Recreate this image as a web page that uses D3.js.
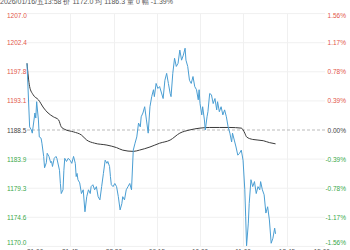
<!DOCTYPE html>
<html>
<head>
<meta charset="utf-8">
<script src="https://cdn.jsdelivr.net/npm/d3@7"></script>
<style>
  body { margin: 0; background: #fff; }
  svg { display: block; font-family: "Liberation Sans", Arial, sans-serif; }
</style>
</head>
<body>
<div id="chart"></div>
<script>
// svg container
var width = 350;
var height = 250;

// previous close and price range
var baseClose = 1188.5;
var priceMin = 1170.0;
var priceMax = 1207.0;
var totalMinutes = 345;

// y tick labels (left price, right percent)
var priceTicks = ["1207.0", "1202.4", "1197.8", "1193.1", "1188.5", "1183.9", "1179.3", "1174.6", "1170.0"];
var pctTicks = ["1.56%", "1.17%", "0.78%", "0.39%", "0.00%", "-0.39%", "-0.78%", "-1.17%", "-1.56%"];

// x tick labels
var timeLabels = ["21:00", "21:45", "22:30", "09:15", "10:00", "11:00", "13:45", "15:00"];
var timeTickMinutes = [0, 49, 99, 148, 197, 246, 296, 345];

// price line (minute offset, price)
var priceMinutes = [0, 3, 5, 6, 9, 10, 11, 13, 14, 16, 17, 19, 20, 22, 23, 25, 27, 28, 29, 31,
  33, 34, 37, 38, 39, 41, 42, 43, 45, 47, 49, 51, 53, 55, 56, 57, 58, 60, 62, 64,
  66, 68, 70, 72, 73, 75, 77, 79, 81, 83, 85, 87, 89, 91, 92, 94, 95, 96, 98, 100,
  102, 104, 106, 108, 109, 111, 113, 115, 117, 119, 121, 123, 125, 126, 127, 129, 130, 132, 134, 136,
  138, 140, 142, 144, 145, 147, 149, 151, 155, 157, 159, 161, 163, 164, 166, 168, 170, 172, 174, 176,
  178, 180, 181, 183, 185, 187, 189, 191, 193, 195, 196, 197, 199, 200, 202, 203, 205, 206, 208, 210,
  212, 214, 216, 217, 219, 221, 223, 225, 227, 229, 231, 233, 234, 236, 238, 240, 242, 244, 246, 248,
  249, 250, 252, 253, 255, 257, 259, 261, 263, 265, 266, 268, 270, 272, 274, 276, 278, 280, 282, 283];
var priceValues = [1199.1, 1189.0, 1188.5, 1188.0, 1191.2, 1190.4, 1193.0, 1190.1, 1187.4, 1187.2, 1186.4, 1184.3, 1182.5, 1183.3, 1184.8, 1184.3, 1183.3, 1183.5, 1182.7, 1184.0,
  1184.3, 1184.0, 1182.1, 1180.0, 1178.4, 1179.0, 1182.1, 1184.0, 1183.5, 1184.0, 1183.7, 1183.2, 1184.3, 1183.2, 1181.1, 1181.6, 1180.6, 1180.1, 1178.4, 1179.0,
  1175.5, 1177.9, 1179.0, 1178.4, 1179.5, 1179.8, 1179.0, 1179.5, 1177.9, 1177.4, 1179.5, 1181.6, 1183.7, 1183.2, 1183.5, 1182.7, 1181.1, 1179.8, 1179.5, 1180.0,
  1179.5, 1177.9, 1175.8, 1176.8, 1177.9, 1177.4, 1179.0, 1179.5, 1180.0, 1179.0, 1185.3, 1186.4, 1187.4, 1188.5, 1189.6, 1189.0, 1190.6, 1191.2, 1192.2, 1190.1,
  1188.0, 1192.2, 1193.8, 1194.9, 1193.8, 1195.9, 1195.1, 1195.4, 1193.5, 1196.4, 1197.5, 1195.9, 1194.3, 1193.8, 1197.5, 1199.9, 1198.6, 1199.1, 1201.2, 1199.6,
  1200.4, 1201.5, 1199.6, 1198.6, 1196.4, 1195.9, 1197.0, 1195.4, 1194.9, 1193.3, 1194.9, 1192.7, 1190.9, 1192.2, 1190.1, 1188.5, 1190.6, 1191.4, 1194.3, 1194.1,
  1192.7, 1193.5, 1191.7, 1193.0, 1191.4, 1192.2, 1190.9, 1191.7, 1190.6, 1189.0, 1188.0, 1186.6, 1188.0, 1186.9, 1185.8, 1184.5, 1184.8, 1185.3, 1183.7, 1179.0,
  1174.7, 1170.1, 1173.7, 1176.8, 1180.6, 1179.5, 1180.3, 1178.4, 1179.5, 1179.0, 1180.3, 1179.0, 1178.2, 1175.3, 1176.3, 1174.2, 1170.5, 1171.3, 1172.9, 1172.0];

// average price line (minute offset, price)
var avgMinutes = [0, 3, 7, 13, 19, 24, 30, 36, 39, 43, 53, 62, 68, 77, 91, 102, 109, 121, 128, 140,
  151, 163, 174, 185, 197, 208, 219, 231, 244, 248, 250, 257, 269, 276, 283];
var avgValues = [1199.1, 1195.4, 1194.1, 1193.3, 1192.0, 1191.2, 1190.6, 1190.1, 1189.0, 1188.6, 1188.2, 1187.7, 1186.9, 1186.4, 1186.1, 1185.7, 1185.3, 1185.1, 1185.3, 1185.8,
  1186.4, 1186.9, 1188.0, 1188.5, 1188.8, 1188.9, 1188.9, 1188.9, 1188.8, 1188.0, 1187.4, 1187.0, 1186.8, 1186.5, 1186.3];

var headerText = "2026/01/16/五13:58  价 1172.0  均 1186.3  量 0  幅 -1.39%";

// chart area
var plotLeft = 27;
var plotRight = 330;
var gridRight = 325;
var plotTop = 13.6;
var plotBottom = 246.4;

var svg = d3.select("#chart").append("svg")
    .attr("width", width)
    .attr("height", height);

var xScale = d3.scaleLinear()
    .domain([0, totalMinutes])
    .range([plotLeft, plotRight]);

var yScale = d3.scaleLinear()
    .domain([priceMin, priceMax])
    .range([plotBottom, plotTop]);

var tickValues = priceTicks.map(d => +d).map((d, i) => priceMax - i * (priceMax - priceMin) / 8);

// horizontal grid
svg.append("g").selectAll("line")
    .data(tickValues.filter((d, i) => i !== 4))
    .enter()
    .append("line")
    .attr("x1", plotLeft)
    .attr("x2", gridRight)
    .attr("y1", d => yScale(d))
    .attr("y2", d => yScale(d))
    .attr("stroke", "#f0f0f0")
    .attr("stroke-width", 1);

// vertical grid
svg.append("g").selectAll("line")
    .data(timeTickMinutes.slice(1, -1))
    .enter()
    .append("line")
    .attr("x1", d => Math.round(xScale(d)) + 0.5)
    .attr("x2", d => Math.round(xScale(d)) + 0.5)
    .attr("y1", plotTop)
    .attr("y2", plotBottom)
    .attr("stroke", "#f0f0f0")
    .attr("stroke-width", 1);

// previous close dashed line
svg.append("line")
    .attr("x1", plotLeft)
    .attr("x2", gridRight)
    .attr("y1", yScale(baseClose))
    .attr("y2", yScale(baseClose))
    .attr("stroke", "#aaa")
    .attr("stroke-width", 0.8)
    .attr("stroke-dasharray", "3,2");

function labelColor(i) {
  if (i < 4) return "#e2564a";
  if (i > 4) return "#3aa84a";
  return "#444";
}

function labelY(d, i) {
  var y = yScale(d);
  if (i === 0) return y + 4.5;
  if (i === 8) return y - 1.5;
  return y + 2.5;
}

// left price labels
svg.append("g").selectAll("text")
    .data(tickValues)
    .enter()
    .append("text")
    .attr("x", 7)
    .attr("y", labelY)
    .attr("font-size", "6.5px")
    .attr("fill", (d, i) => labelColor(i))
    .text((d, i) => priceTicks[i]);

// right percent labels
svg.append("g").selectAll("text")
    .data(tickValues)
    .enter()
    .append("text")
    .attr("x", 346)
    .attr("y", labelY)
    .attr("text-anchor", "end")
    .attr("font-size", "6.5px")
    .attr("fill", (d, i) => labelColor(i))
    .text((d, i) => pctTicks[i]);

// x axis labels (mostly clipped by the frame)
svg.append("g").selectAll("text")
    .data(timeTickMinutes)
    .enter()
    .append("text")
    .attr("x", d => xScale(d))
    .attr("y", 254)
    .attr("text-anchor", (d, i) => i === 0 ? "start" : (i === timeTickMinutes.length - 1 ? "end" : "middle"))
    .attr("font-size", "6.5px")
    .attr("fill", "#555")
    .text((d, i) => timeLabels[i]);

// average line
var avgData = avgMinutes.map((m, i) => ({ m: m, v: avgValues[i] }));
svg.append("path")
    .datum(avgData)
    .attr("fill", "none")
    .attr("stroke", "#3a3a3a")
    .attr("stroke-width", 1)
    .attr("d", d3.line().x(d => xScale(d.m)).y(d => yScale(d.v)).curve(d3.curveMonotoneX));

// price line
var priceData = priceMinutes.map((m, i) => ({ m: m, v: priceValues[i] }));
svg.append("path")
    .datum(priceData)
    .attr("fill", "none")
    .attr("stroke", "#4a9ed3")
    .attr("stroke-width", 1)
    .attr("d", d3.line().x(d => xScale(d.m)).y(d => yScale(d.v)));

// header text
svg.append("text")
    .attr("x", 0)
    .attr("y", 4)
    .attr("font-size", "7px")
    .attr("fill", "#555")
    .text(headerText);
</script>
</body>
</html>
